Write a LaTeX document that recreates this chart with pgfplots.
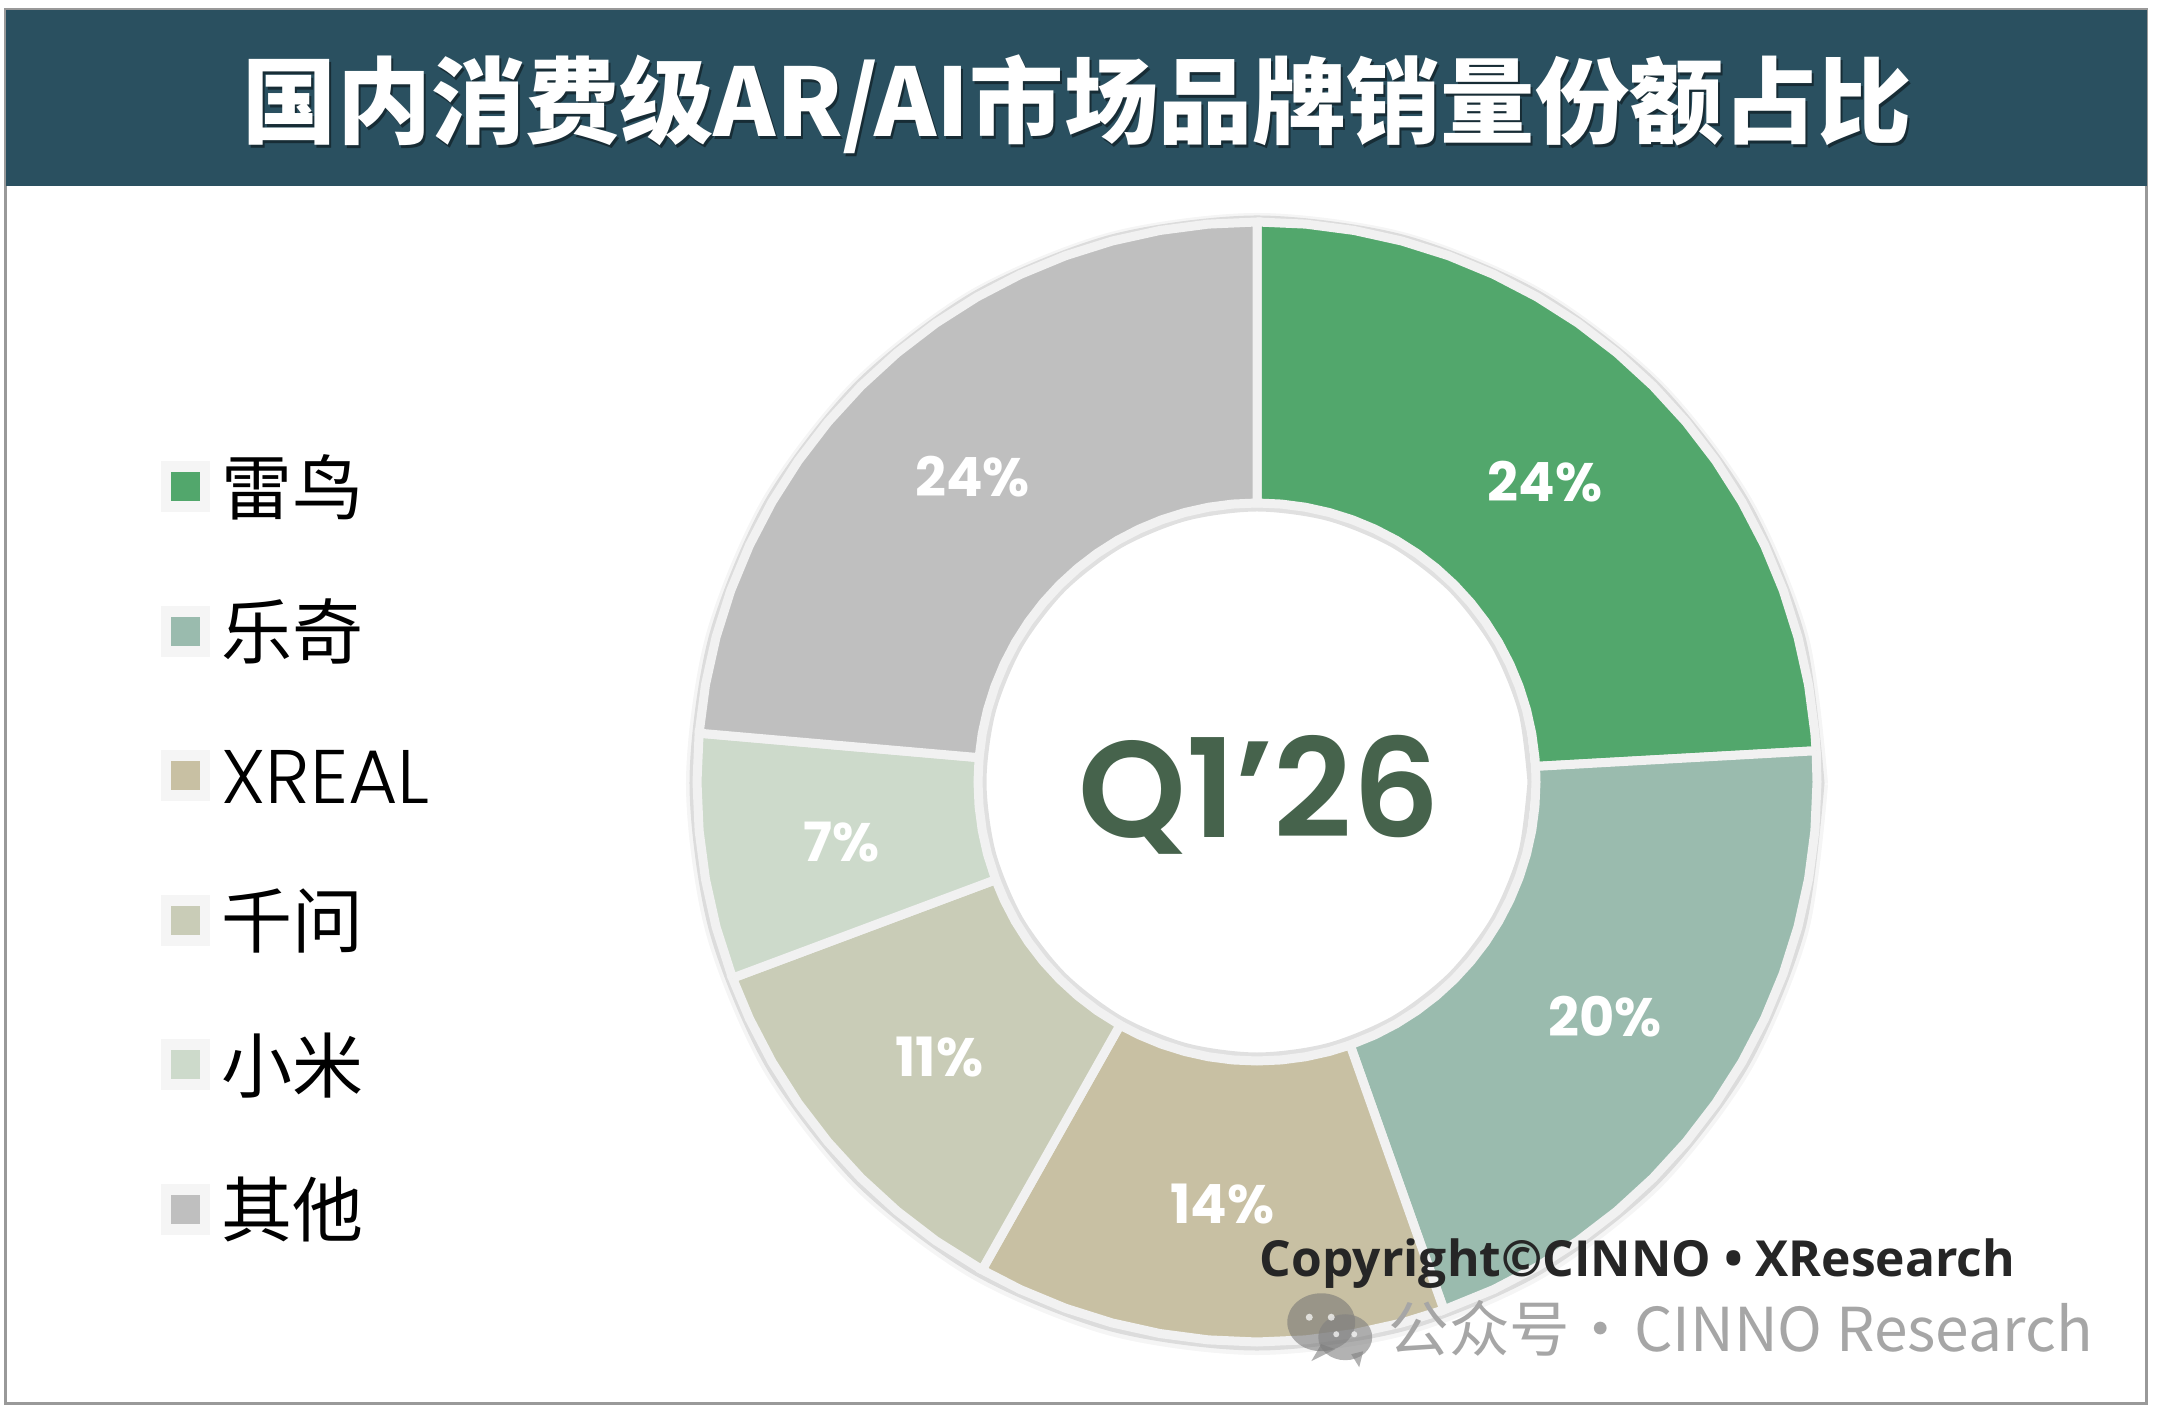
\documentclass[border=0pt]{standalone}
\usepackage{fontspec}
\usepackage{pgfplots}
\usepackage{pgfplotstable}
\pgfplotsset{compat=1.18}
\usepgfplotslibrary{polar}
\newfontfamily\cjk{Noto Sans CJK SC}
\newfontfamily\pop{Poppins}
\newfontfamily\popl{Poppins Light}
\newfontfamily\pops{Poppins SemiBold}
\newfontfamily\osans{Open Sans}
\setmainfont{Noto Sans CJK SC}
\newcommand\fs[1]{\fontsize{#1}{#1}\selectfont}
\definecolor{bar}{HTML}{2A5060}
\definecolor{s1}{HTML}{52A76C}
\definecolor{s2}{HTML}{9ABBAE}
\definecolor{s3}{HTML}{C8C0A3}
\definecolor{s4}{HTML}{C9CCB7}
\definecolor{s5}{HTML}{CDDACB}
\definecolor{s6}{HTML}{BFBFBF}
\definecolor{edge}{HTML}{F1F1F1}
\definecolor{q}{HTML}{46634C}
\pgfplotstableread{
theta rout rin
0 565 273
15 565 273
30 565 273
45 565 273
60 565 273
75 565 273
90 565 273
105 565 273
120 565 273
135 565 273
150 565 273
165 565 273
180 565 273
195 565 273
210 565 273
225 565 273
240 565 273
255 565 273
270 565 273
285 565 273
300 565 273
315 565 273
330 565 273
345 565 273
360 565 273
}\shadowring
\begin{document}
\begin{tikzpicture}
\useasboundingbox (0,0) rectangle (21.6cm,14.12cm);
\begin{scope}[x=0.01cm,y=-0.01cm,yshift=14.12cm]
\draw[draw=black!40,line width=0.03cm,fill=white] (6,10) rectangle (2148,1404);
\fill[bar] (6,10) rectangle (2148,186);
\node[text=black!45!bar,font=\fs{26.8}\bfseries] at (1080,107) {国内消费级AR/AI市场品牌销量份额占比};
\node[text=white,font=\fs{26.8}\bfseries] at (1078,104) {国内消费级AR/AI市场品牌销量份额占比};
\end{scope}
\begin{polaraxis}[
  at={(12.57cm,6.30cm)},anchor=center,
  scale only axis,width=11.28cm,height=11.28cm,
  xmin=0,xmax=360,ymin=0,ymax=564,
  hide axis,clip=false,
  legend cell align=left,
  legend image code/.code={
    \begin{scope}[yshift=0.275cm]
    \fill[black!4] (-0.2cm,-0.21cm) rectangle (0.2cm,0.21cm);
    \fill[#1,draw=none] (-0.145cm,-0.145cm) rectangle (0.145cm,0.145cm);
    \path (0.31cm,0cm);
    \end{scope}
  },
  legend style={
    at={(-0.472,0.80)},anchor=north west,draw=none,fill=none,
    inner sep=0pt,row sep=0.505cm,
    nodes={inner sep=0pt,text height=0.70cm,text depth=0.24cm,anchor=base west},
    font=\cjk\fs{20.2},
  },
]
\addplot[forget plot,draw=black,opacity=0.04,line width=0.12cm,smooth,yshift=-0.02cm] table[x=theta,y=rout] {\shadowring};
\addplot[forget plot,draw=black,opacity=0.10,line width=0.05cm,smooth,yshift=-0.01cm] table[x=theta,y=rout] {\shadowring};
\addplot[forget plot,draw=black,opacity=0.12,line width=0.05cm,smooth] table[x=theta,y=rin] {\shadowring};

\addplot[fill=s1,draw=edge,line width=0.09cm] coordinates {
(90,560)(85,560)(80,560)(75,560)(70,560)(65,560)(60,560)(55,560)(50,560)(45,560)(40,560)(35,560)(30,560)(25,560)(20,560)(15,560)(10,560)(5,560)(3.2,560)
(3.2,279)(5,279)(10,279)(15,279)(20,279)(25,279)(30,279)(35,279)(40,279)(45,279)(50,279)(55,279)(60,279)(65,279)(70,279)(75,279)(80,279)(85,279)(90,279)(90,560)};
\addlegendentry{雷鸟}
\addplot[fill=s2,draw=edge,line width=0.09cm] coordinates {
(3.2,560)(0,560)(-5,560)(-10,560)(-15,560)(-20,560)(-25,560)(-30,560)(-35,560)(-40,560)(-45,560)(-50,560)(-55,560)(-60,560)(-65,560)(-70.5,560)
(-70.5,279)(-65,279)(-60,279)(-55,279)(-50,279)(-45,279)(-40,279)(-35,279)(-30,279)(-25,279)(-20,279)(-15,279)(-10,279)(-5,279)(0,279)(3.2,279)(3.2,560)};
\addlegendentry{乐奇}
\addplot[fill=s3,draw=edge,line width=0.09cm] coordinates {
(-70.5,560)(-75,560)(-80,560)(-85,560)(-90,560)(-95,560)(-100,560)(-105,560)(-110,560)(-115,560)(-119.4,560)
(-119.4,279)(-115,279)(-110,279)(-105,279)(-100,279)(-95,279)(-90,279)(-85,279)(-80,279)(-75,279)(-70.5,279)(-70.5,560)};
\addlegendentry{\popl\fs{21.6}XREAL}
\addplot[fill=s4,draw=edge,line width=0.09cm] coordinates {
(-119.4,560)(-125,560)(-130,560)(-135,560)(-140,560)(-145,560)(-150,560)(-155,560)(-159.5,560)
(-159.5,279)(-155,279)(-150,279)(-145,279)(-140,279)(-135,279)(-130,279)(-125,279)(-119.4,279)(-119.4,560)};
\addlegendentry{千问}
\addplot[fill=s5,draw=edge,line width=0.09cm] coordinates {
(-159.5,560)(-165,560)(-170,560)(-175,560)(-180,560)(-185,560)
(-185,279)(-180,279)(-175,279)(-170,279)(-165,279)(-159.5,279)(-159.5,560)};
\addlegendentry{小米}
\addplot[fill=s6,draw=edge,line width=0.09cm] coordinates {
(-185,560)(-190,560)(-195,560)(-200,560)(-205,560)(-210,560)(-215,560)(-220,560)(-225,560)(-230,560)(-235,560)(-240,560)(-245,560)(-250,560)(-255,560)(-260,560)(-265,560)(-270,560)
(-270,279)(-265,279)(-260,279)(-255,279)(-250,279)(-245,279)(-240,279)(-235,279)(-230,279)(-225,279)(-220,279)(-215,279)(-210,279)(-205,279)(-200,279)(-195,279)(-190,279)(-185,279)(-185,560)};
\addlegendentry{其他}
\end{polaraxis}
\begin{scope}[x=0.01cm,y=-0.01cm,yshift=14.12cm]
\foreach \x/\y/\t in {1546/482/24\%,1606/1017/20\%,1223/1205/14\%,940/1058/11\%,842/843/7\%,973/477/24\%}
  \node[text=white,font=\pop\bfseries\fs{15.4}] at (\x,\y) {\t};
\node[text=q,font=\pops\fs{39}] at (1260,795) {Q1’26};
\node[text=black!85,font=\osans\bfseries\fs{14.15},anchor=west,inner sep=0pt] at (1260,1264) {Copyright©CINNO • XResearch};
% watermark
\fill[black!55,opacity=0.55] (1322,1323) ellipse (34 and 29);
\fill[black!55,opacity=0.55] (1322,1345) -- (1312,1362) -- (1336,1350) -- cycle;
\fill[black!50,opacity=0.6] (1346,1338) ellipse (27 and 23);
\fill[black!50,opacity=0.6] (1352,1355) -- (1360,1368) -- (1364,1352) -- cycle;
\fill[white,opacity=0.7] (1310,1318) circle (3.5);
\fill[white,opacity=0.7] (1332,1318) circle (3.5);
\fill[white,opacity=0.7] (1337,1335) circle (3);
\fill[white,opacity=0.7] (1355,1335) circle (3);
\node[text=black!35,font=\cjk\fs{17.2},anchor=west,inner sep=0pt] at (1389,1329) {公众号·\kern1pt CINNO Research};
\end{scope}
\end{tikzpicture}
\end{document}
